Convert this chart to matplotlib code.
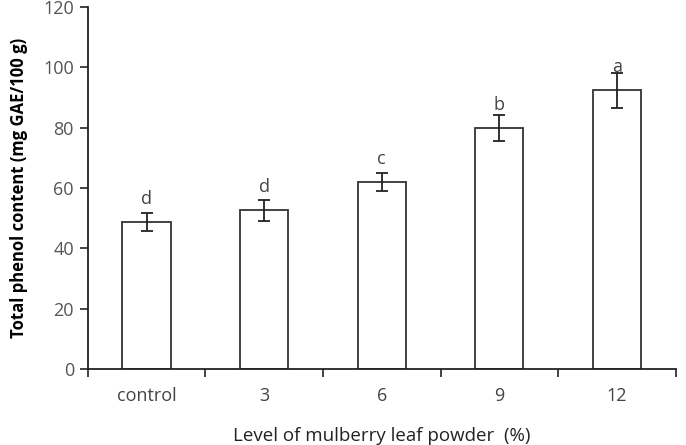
import numpy as np
import matplotlib.pyplot as plt

levels = ['control', '3', '6', '9', '12']
phenol = [48.6, 52.6, 61.9, 79.9, 92.5]
phenol_err = [3.0, 3.5, 3.0, 4.2, 5.8]
letters = ['d', 'd', 'c', 'b', 'a']

plt.rcParams['font.family'] = ['Open Sans', 'DejaVu Sans']

fig = plt.figure(figsize=(6.86, 4.45), dpi=100)
ax = fig.add_axes([0.128, 0.171, 0.857, 0.813])

x = np.arange(len(levels))
ax.bar(x, phenol, width=0.41, color='white', edgecolor='#333333', linewidth=1.3, zorder=2)
ax.errorbar(x, phenol, yerr=phenol_err, fmt='none', ecolor='#222222',
            elinewidth=1.3, capsize=4, capthick=1.3, zorder=3)

# significance letters, a fixed step above each bar top
for xi, v, lab in zip(x, phenol, letters):
    ax.text(xi, v + 7.8, lab, ha='center', va='center', fontsize=13, color='#444444', zorder=4)

ax.set_xlim(-0.5, 4.5)
ax.set_ylim(0, 120)
ax.set_yticks(np.arange(0, 121, 20))
ax.set_xticks(x)
ax.set_xticklabels(levels)
ax.set_xticks(np.arange(-0.5, 4.6, 1), minor=True)
ax.tick_params(axis='x', which='major', length=0, pad=13, labelsize=13, labelcolor='#444444')
ax.tick_params(axis='x', which='minor', length=6, width=1.2, direction='out', color='#222222')
ax.tick_params(axis='y', length=6, width=1.2, direction='out', color='#222222', pad=4,
               labelsize=13, labelcolor='#555555')

for s in ['top', 'right']:
    ax.spines[s].set_visible(False)
for s in ['left', 'bottom']:
    ax.spines[s].set_linewidth(1.3)
    ax.spines[s].set_color('#222222')

ax.set_ylabel('Total phenol content (mg GAE/100 g)', fontsize=12, fontweight='bold', labelpad=11)
# x label sits near the bottom edge, placed in figure coords
fig.text(0.556, 0.02, 'Level of mulberry leaf powder  (%)', fontsize=13.5, color='#222222',
         ha='center', va='center')

fig.savefig('out.png', dpi=100)
